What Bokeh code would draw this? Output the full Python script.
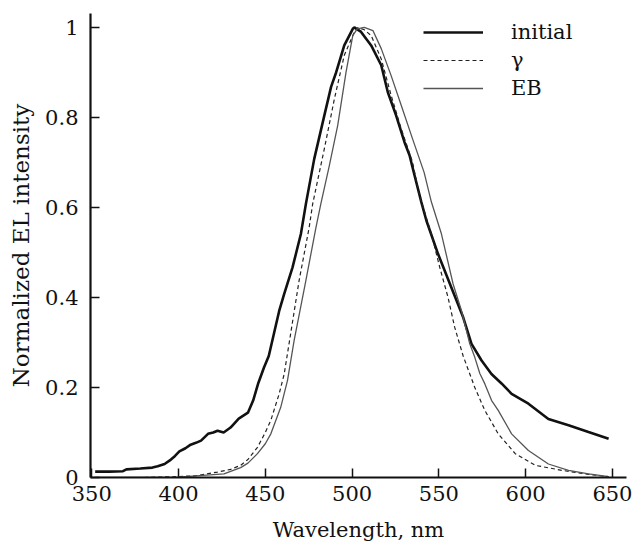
from bokeh.plotting import figure
from bokeh.models import Range1d, FixedTicker, Legend, LegendItem
from bokeh.embed import file_html
from bokeh.resources import INLINE

# ---- data ----
initial_wl = [352, 360, 368, 370, 378, 385, 388, 392, 395, 398, 400.5, 404, 407, 410, 413,
              417, 420, 422.5, 426, 430, 434.7, 440, 443, 446, 449.3, 452, 455, 458, 460.9,
              465.7, 470.5, 473.4, 478.2, 484, 487.9, 490.8, 495.5, 500.4, 501.3, 505.2, 511,
              516.8, 520.6, 525.4, 530.2, 533.1, 536, 539.9, 542.8, 549.5, 557.2, 564, 568.8,
              574.6, 580.3, 586.1, 591.9, 601.6, 613.1, 624.7, 636.2, 647.8]
initial_val = [0.013, 0.013, 0.014, 0.018, 0.02, 0.022, 0.025, 0.03, 0.038, 0.048, 0.058, 0.065,
               0.073, 0.077, 0.082, 0.097, 0.1, 0.104, 0.1, 0.111, 0.131, 0.144, 0.171, 0.21,
               0.245, 0.27, 0.32, 0.37, 0.408, 0.467, 0.541, 0.608, 0.708, 0.804, 0.868, 0.9,
               0.96, 0.997, 1.0, 0.99, 0.96, 0.916, 0.856, 0.804, 0.745, 0.716, 0.671, 0.612,
               0.571, 0.497, 0.422, 0.356, 0.297, 0.26, 0.23, 0.209, 0.186, 0.164, 0.13, 0.116,
               0.101, 0.086]

gamma_wl = [352, 380, 400, 410, 422.4, 430, 435.8, 440, 445.5, 450, 453.2, 458, 460.9, 463.8,
            469.5, 475.3, 477.3, 484, 489.8, 495.5, 501.3, 503.5, 507, 511, 516.8, 522.5, 528.3,
            534.8, 538.8, 545.7, 550.5, 555.3, 559.1, 564, 570.7, 576.5, 584.2, 594, 605.5,
            620.8, 636.2, 647.8]
gamma_val = [0.0, 0.0, 0.002, 0.004, 0.012, 0.018, 0.027, 0.04, 0.067, 0.1, 0.127, 0.186, 0.23,
             0.3, 0.438, 0.556, 0.608, 0.73, 0.841, 0.938, 0.99, 1.0, 0.995, 0.982, 0.93, 0.849,
             0.775, 0.701, 0.627, 0.541, 0.467, 0.4, 0.334, 0.27, 0.2, 0.149, 0.097, 0.053,
             0.027, 0.016, 0.007, 0.002]

eb_wl = [352, 400, 426.2, 435.8, 440, 445.5, 450, 453.2, 458.9, 462.8, 466.6, 473.4, 479.2, 482,
         486.9, 491.7, 496.5, 500.4, 503, 507, 512, 516.8, 522.5, 528.3, 534.8, 541.5, 545.7,
         551.5, 558.2, 563, 567.8, 570.7, 573.6, 576.5, 580.4, 584.2, 591.9, 601.6, 613.1,
         624.7, 636.2, 647.8]
eb_val = [0.0, 0.001, 0.008, 0.022, 0.032, 0.053, 0.075, 0.097, 0.156, 0.216, 0.304, 0.438,
          0.556, 0.608, 0.693, 0.782, 0.9, 0.982, 0.997, 1.0, 0.993, 0.953, 0.893, 0.827, 0.753,
          0.678, 0.612, 0.541, 0.43, 0.371, 0.297, 0.267, 0.231, 0.208, 0.171, 0.149, 0.097,
          0.06, 0.03, 0.016, 0.008, 0.002]

x_ticks = [350, 400, 450, 500, 550, 600, 650]
y_ticks = [0, 0.2, 0.4, 0.6, 0.8, 1]
y_tick_labels = ["0", "0.2", "0.4", "0.6", "0.8", "1"]
series_names = ["initial", "\u03b3", "EB"]

FONT = "DejaVu Serif"

p = figure(width=636, height=548, output_backend="svg", toolbar_location=None,
           x_range=Range1d(349.3, 658.1), y_range=Range1d(0, 1.031),
           min_border_left=90, min_border_right=10, min_border_top=13, min_border_bottom=71)
p.outline_line_color = None
p.grid.visible = False
p.background_fill_color = "white"

r1 = p.line(initial_wl, initial_val, line_color="#111111", line_width=2.6)
r2 = p.line(gamma_wl, gamma_val, line_color="#222222", line_width=1.2, line_dash="4 3")
r3 = p.line(eb_wl, eb_val, line_color="#555555", line_width=1.3)

for ax in (p.xaxis[0], p.yaxis[0]):
    ax.axis_line_width = 2.2
    ax.axis_line_color = "#111111"
    ax.major_tick_in = 9
    ax.major_tick_out = 0
    ax.minor_tick_in = 0
    ax.minor_tick_out = 0
    ax.major_tick_line_width = 1.5
    ax.major_tick_line_color = "#111111"
    ax.major_label_text_font = FONT
    ax.major_label_text_font_style = "normal"
    ax.major_label_text_font_size = "21px"
    ax.major_label_text_color = "#111111"
    ax.axis_label_text_font = FONT
    ax.axis_label_text_font_style = "normal"
    ax.axis_label_text_color = "#111111"

p.xaxis.ticker = FixedTicker(ticks=x_ticks)
p.yaxis.ticker = FixedTicker(ticks=y_ticks)
p.yaxis.major_label_overrides = {t: s for t, s in zip(y_ticks, y_tick_labels)}
p.xaxis.axis_label = "Wavelength, nm"
p.yaxis.axis_label = "Normalized EL intensity"
p.xaxis.axis_label_text_font_size = "21px"
p.yaxis.axis_label_text_font_size = "23px"
p.xaxis.major_label_standoff = 8
p.xaxis.axis_label_standoff = 14
p.yaxis.major_label_standoff = 12
p.yaxis.axis_label_standoff = 8

legend = Legend(items=[LegendItem(label=n, renderers=[r]) for n, r in zip(series_names, [r1, r2, r3])],
                location=(333, 375), glyph_width=60, glyph_height=28, label_standoff=28,
                spacing=0, padding=0, margin=0, border_line_alpha=0, background_fill_alpha=0,
                label_text_font=FONT, label_text_font_style="normal",
                label_text_font_size="21px", label_text_color="#111111")
p.add_layout(legend)

open("out.html", "w").write(file_html(p, INLINE))
